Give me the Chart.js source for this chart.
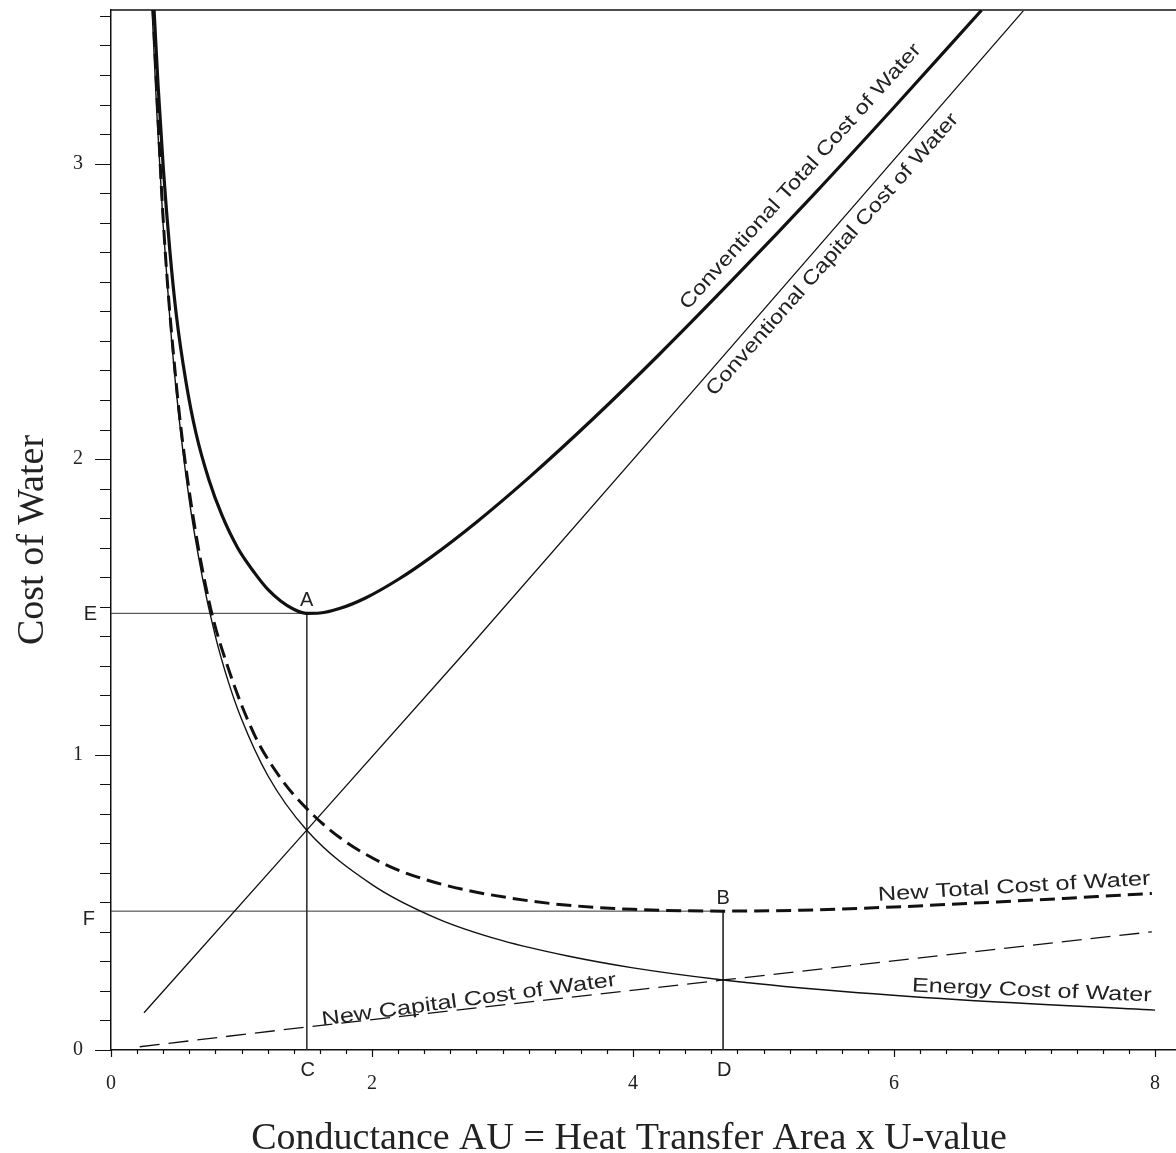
<!DOCTYPE html>
<html>
<head>
<meta charset="utf-8">
<title>Cost of Water vs Conductance</title>
<script src="https://cdn.jsdelivr.net/npm/chart.js@4.4.1/dist/chart.umd.min.js"></script>
<style>
  html, body { margin: 0; background: #fff; }
  #wrap { width: 1176px; height: 1153px; position: relative; }
</style>
</head>
<body>
<div id="wrap"><canvas id="costChart"></canvas></div>
<script>
// conductance AU (x) and cost of water (y) along each curve
var energyX = [0.315, 0.35, 0.4, 0.45, 0.5, 0.6, 0.7, 0.8, 0.9, 1.0, 1.2, 1.5, 2.0, 2.5, 3.0, 3.5, 4.0, 4.69, 5.5, 6.5, 8.0];
var energyY = [3.52, 3.18, 2.79, 2.48, 2.23, 1.86, 1.60, 1.40, 1.245, 1.12, 0.93, 0.744, 0.56, 0.445, 0.37, 0.318, 0.278, 0.237, 0.202, 0.170, 0.135];

var convTotalX = [0.33, 0.36, 0.4, 0.45, 0.5, 0.575, 0.65, 0.75, 0.85, 0.97, 1.1, 1.2, 1.3, 1.4, 1.5, 1.6, 1.75, 1.95, 2.2, 2.45, 2.8, 3.2, 3.7, 4.2, 4.8, 5.4, 6.0, 6.67];
var convTotalY = [3.52, 3.27, 2.99, 2.71, 2.49, 2.26, 2.09, 1.93, 1.81, 1.70, 1.615, 1.56, 1.52, 1.492, 1.478, 1.479, 1.494, 1.530, 1.5925, 1.6675, 1.7865, 1.9365, 2.139, 2.354, 2.624, 2.903, 3.191, 3.519];

var convCapX = [0.253, 1.5, 2.725, 4.513, 6.99];
var convCapY = [0.126, 0.744, 1.353, 2.258, 3.517];

var newCapX = [0.22, 1.5, 4.69, 7.975];
var newCapY = [0.011, 0.078, 0.237, 0.400];

var newTotalX = [0.322, 0.4, 0.5, 0.6, 0.75, 0.9, 1.1, 1.3, 1.5, 1.75, 2.087, 2.4, 2.725, 3.05, 3.364, 3.7, 4.0, 4.69, 5.28, 6.0, 6.557, 7.3, 7.975];
var newTotalY = [3.52, 2.81, 2.255, 1.89, 1.52, 1.29, 1.066, 0.92, 0.817, 0.72, 0.631, 0.578, 0.541, 0.515, 0.496, 0.483, 0.476, 0.470, 0.473, 0.484, 0.496, 0.513, 0.530];

// optimum points: A = conventional minimum, B = new minimum
var pointA = { x: 1.5, y: 1.478 };
var pointB = { x: 4.69, y: 0.470 };

var xMajorLabels = [0, 2, 4, 6, 8];
var yMajorLabels = [0, 1, 2, 3];

function pts(xs, ys) {
    return xs.map(function (v, i) { return { x: v, y: ys[i] }; });
}

var ink = '#111';

var curveLabels = [
    { text: 'Conventional Total Cost of Water', x: 5.284, y: 2.956, angle: -48, width: 350 },
    { text: 'Conventional Capital Cost of Water', x: 5.529, y: 2.692, angle: -48.5, width: 370 },
    { text: 'New Total Cost of Water', x: 6.92, y: 0.551, angle: -3.4, width: 273 },
    { text: 'Energy Cost of Water', x: 7.055, y: 0.200, angle: 2.4, width: 240 },
    { text: 'New Capital Cost of Water', x: 2.743, y: 0.169, angle: -7.7, width: 297 }
];

// tick marks, frame top, letters and titles
var decorations = {
    id: 'decorations',
    afterDraw: function (chart) {
        var ctx = chart.ctx, a = chart.chartArea;
        var xs = chart.scales.x, ys = chart.scales.y;
        ctx.save();

        ctx.strokeStyle = ink;
        ctx.lineWidth = 1.5;
        ctx.beginPath();
        ctx.moveTo(a.left, a.top);
        ctx.lineTo(a.right, a.top);
        ctx.stroke();

        ctx.lineWidth = 1.2;
        ctx.beginPath();
        ys.ticks.forEach(function (t) {
            var major = Math.abs(t.value - Math.round(t.value)) < 1e-6;
            var py = Math.round(ys.getPixelForValue(t.value)) + 0.5;
            ctx.moveTo(a.left - (major ? 16 : 11), py);
            ctx.lineTo(a.left, py);
        });
        xs.ticks.forEach(function (t) {
            var major = Math.abs(t.value / 2 - Math.round(t.value / 2)) < 1e-6;
            var px = Math.round(xs.getPixelForValue(t.value)) + 0.5;
            ctx.moveTo(px, a.bottom);
            ctx.lineTo(px, a.bottom + (major ? 7 : 4));
        });
        ctx.stroke();

        // letters on the reference lines
        ctx.fillStyle = '#222';
        ctx.font = '20px "Liberation Sans", Arial, sans-serif';
        ctx.textAlign = 'center';
        ctx.textBaseline = 'middle';
        var ax = xs.getPixelForValue(pointA.x), ay = ys.getPixelForValue(pointA.y);
        var bx = xs.getPixelForValue(pointB.x), by = ys.getPixelForValue(pointB.y);
        ctx.fillText('A', ax, ay - 13);
        ctx.fillText('B', bx, by - 13);
        ctx.fillText('C', ax + 1, a.bottom + 20);
        ctx.fillText('D', bx + 1, a.bottom + 20);
        ctx.textAlign = 'right';
        ctx.fillText('E', a.left - 14, ay + 1);
        ctx.fillText('F', a.left - 16, by + 8);

        // curve names
        ctx.textAlign = 'center';
        ctx.textBaseline = 'middle';
        curveLabels.forEach(function (l) {
            var w = ctx.measureText(l.text).width;
            ctx.save();
            ctx.translate(xs.getPixelForValue(l.x), ys.getPixelForValue(l.y));
            ctx.rotate(l.angle * Math.PI / 180);
            ctx.scale(l.width / w, 1);
            ctx.fillText(l.text, 0, 0);
            ctx.restore();
        });

        // axis titles
        ctx.font = '38px "Liberation Serif", "Times New Roman", serif';
        ctx.textBaseline = 'alphabetic';
        ctx.fillText('Conductance AU = Heat Transfer Area x U-value', 629, 1149);
        ctx.save();
        ctx.translate(43, 540);
        ctx.rotate(-Math.PI / 2);
        ctx.fillText('Cost of Water', 0, 0);
        ctx.restore();

        ctx.restore();
    }
};

function solid(label, data, width, smooth) {
    return {
        label: label, data: data, showLine: true,
        borderColor: ink, borderWidth: width,
        pointRadius: 0, fill: false,
        cubicInterpolationMode: smooth ? 'monotone' : 'default', tension: 0
    };
}

var datasets = [
    solid('Conventional Total Cost of Water', pts(convTotalX, convTotalY), 3.2, true),
    solid('Conventional Capital Cost of Water', pts(convCapX, convCapY), 1.3, false),
    solid('Energy Cost of Water', pts(energyX, energyY), 1.4, true),
    Object.assign(solid('New Total Cost of Water', pts(newTotalX, newTotalY), 3, true), { borderDash: [15, 7] }),
    Object.assign(solid('New Capital Cost of Water', pts(newCapX, newCapY), 1.3, false), { borderDash: [20, 9] }),
    Object.assign(solid('E-A-C', [{ x: 0, y: pointA.y }, pointA, { x: pointA.x, y: 0 }], 1, false), { borderColor: '#333' }),
    Object.assign(solid('F-B-D', [{ x: 0, y: pointB.y }, pointB, { x: pointB.x, y: 0 }], 1, false), { borderColor: '#333' })
];

var serif = '"Liberation Serif", "Times New Roman", serif';

new Chart(document.getElementById('costChart'), {
    type: 'scatter',
    data: { datasets: datasets },
    options: {
        responsive: true,
        maintainAspectRatio: false,
        animation: false,
        layout: { padding: { top: 10, right: 0, left: 0, bottom: 0 } },
        plugins: { legend: { display: false }, tooltip: { enabled: false } },
        scales: {
            x: {
                type: 'linear', min: 0, max: 8.16,
                afterFit: function (s) { s.height = 103; s.paddingLeft = 0; s.paddingRight = 0; },
                grid: { display: false, drawTicks: false },
                border: { display: true, color: ink, width: 1.5 },
                ticks: {
                    stepSize: 0.2, includeBounds: false, autoSkip: false, maxRotation: 0,
                    padding: 22, color: '#222',
                    font: { family: serif, size: 20 },
                    callback: function (v) { return xMajorLabels.indexOf(Math.round(v * 10) / 10) >= 0 ? String(Math.round(v)) : ''; }
                }
            },
            y: {
                type: 'linear', min: 0, max: 3.52,
                afterFit: function (s) { s.width = 111; s.paddingTop = 0; s.paddingBottom = 0; },
                grid: { display: false, drawTicks: false },
                border: { display: true, color: ink, width: 1.5 },
                ticks: {
                    stepSize: 0.1, includeBounds: false, autoSkip: false,
                    padding: 28, color: '#222',
                    font: { family: serif, size: 20 },
                    callback: function (v) { return yMajorLabels.indexOf(Math.round(v * 10) / 10) >= 0 ? String(Math.round(v)) : ''; }
                }
            }
        }
    },
    plugins: [decorations]
});
</script>
</body>
</html>
